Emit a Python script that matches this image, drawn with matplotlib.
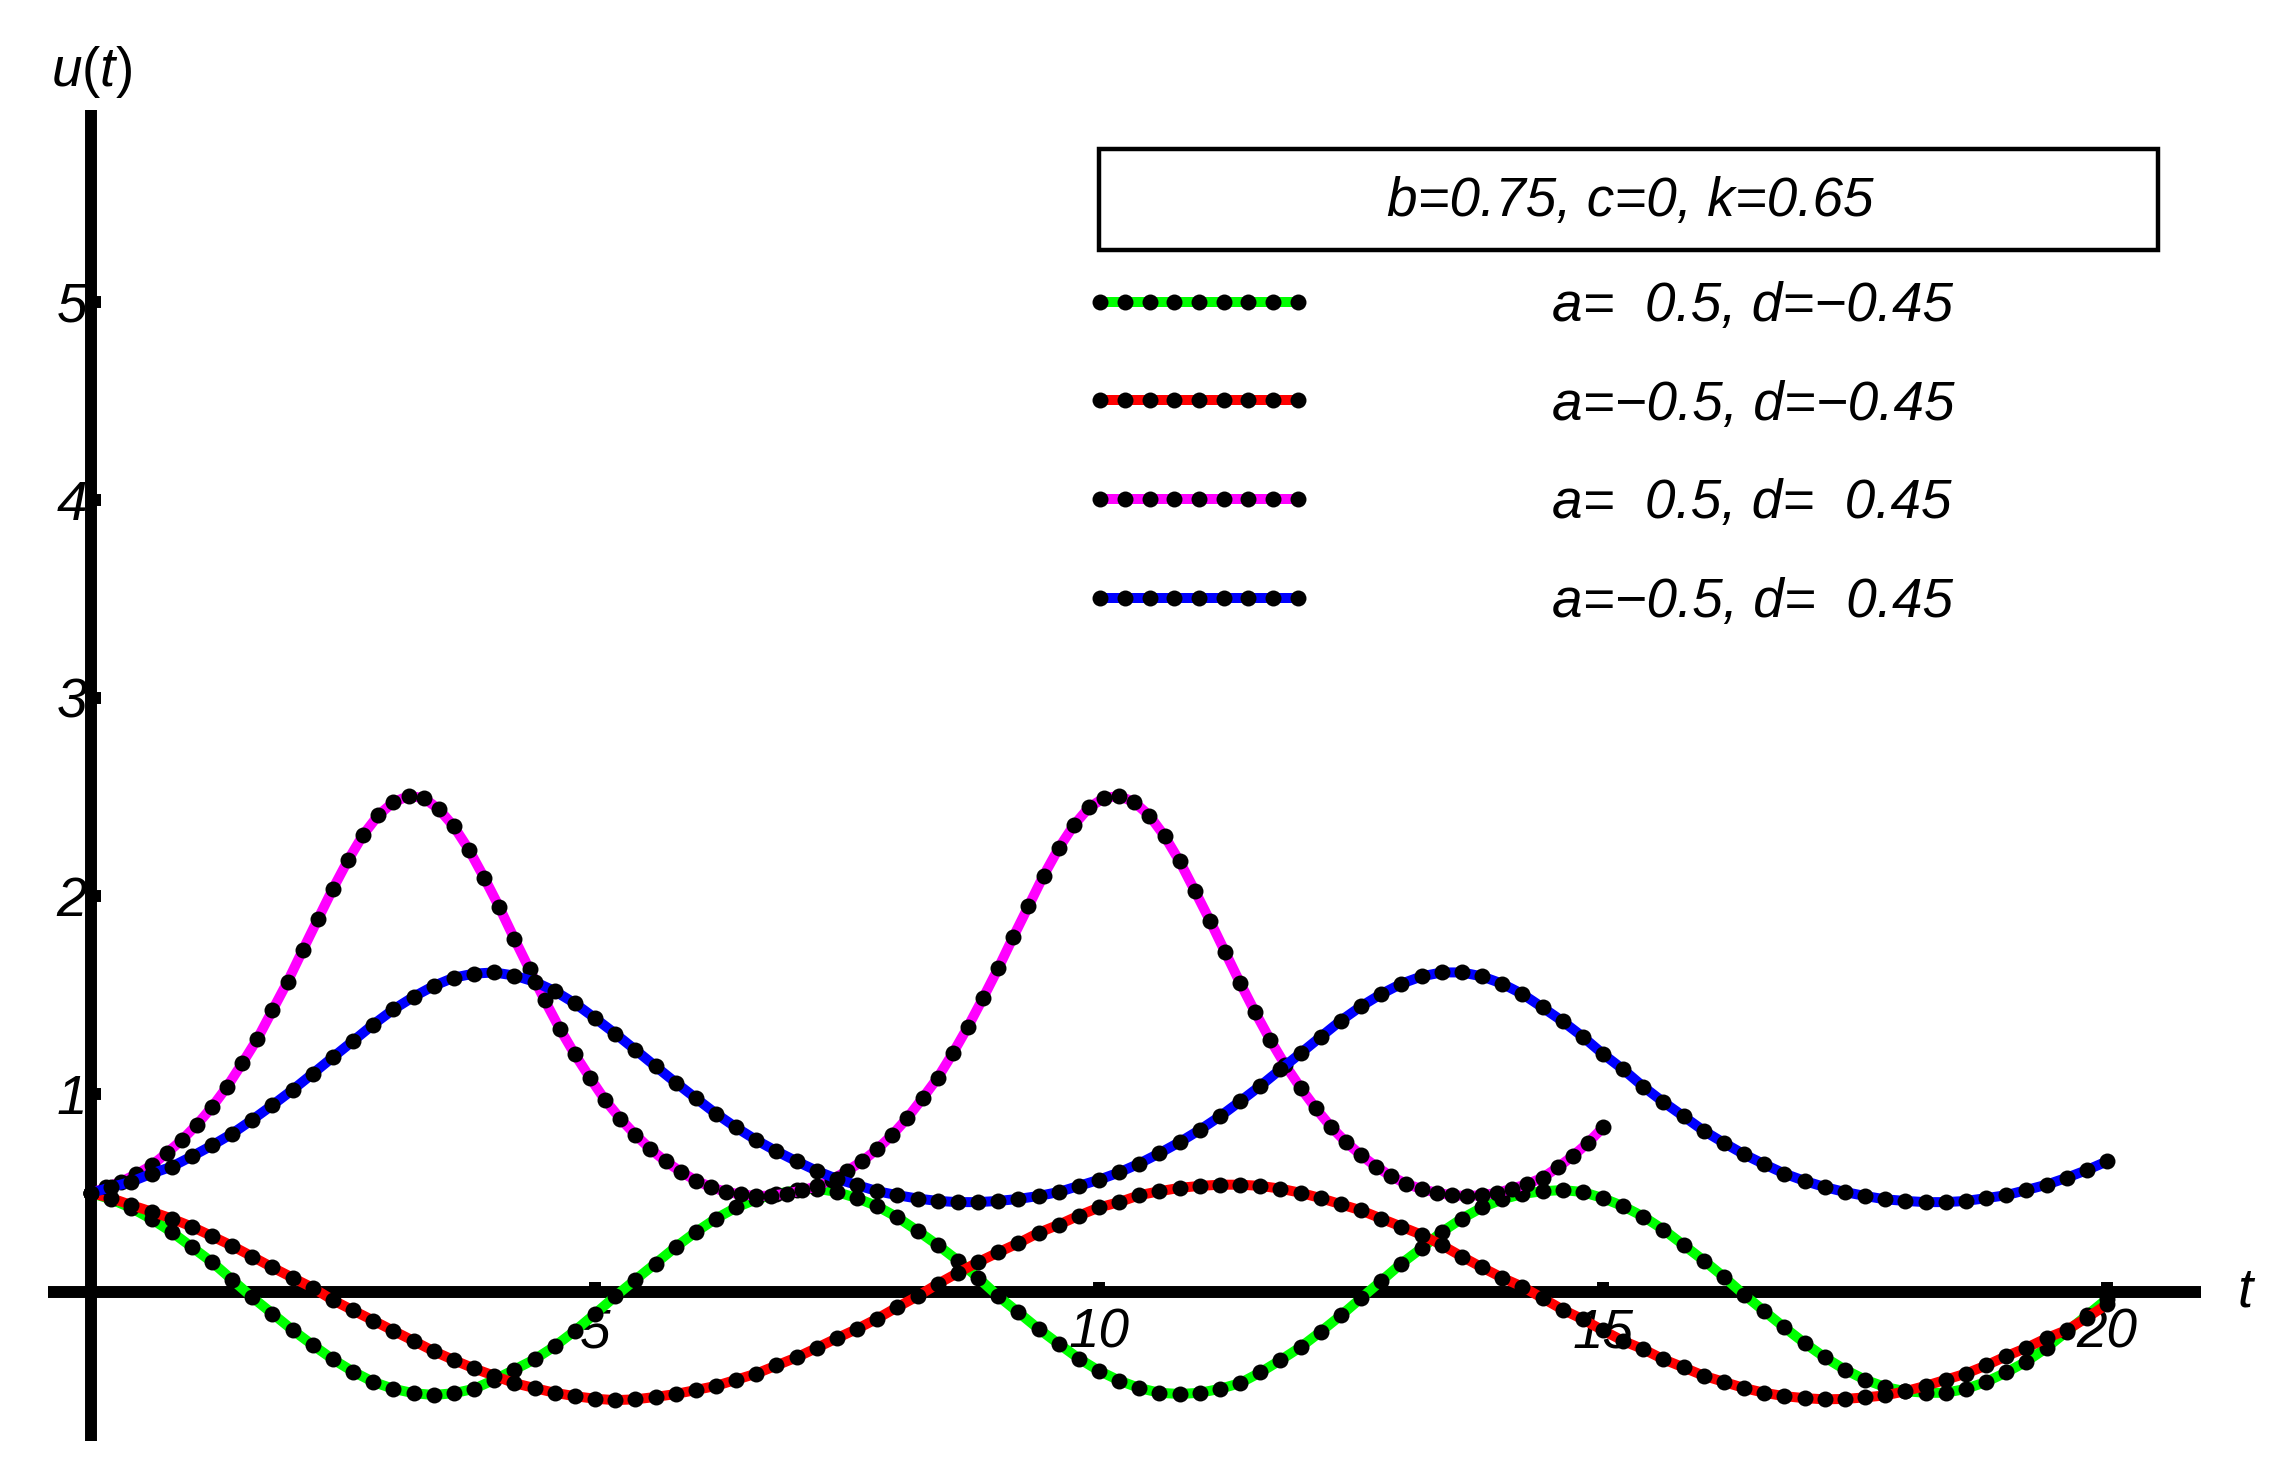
import numpy as np
import matplotlib
matplotlib.use("Agg")
from matplotlib import pyplot as plt
from matplotlib.patches import Rectangle
from matplotlib.legend_handler import HandlerLine2D

plt.rcParams['font.family'] = ['Liberation Sans', 'DejaVu Sans']
plt.rcParams['mathtext.fontset'] = 'custom'
plt.rcParams['mathtext.it'] = 'Liberation Sans:italic'
plt.rcParams['mathtext.rm'] = 'Liberation Sans'

# sample times: 101 points per curve (one dot per point)
t20 = np.linspace(0, 20, 101)
t15 = np.linspace(0, 15, 101)

# a= 0.5, d=-0.45
green = [0.500, 0.468, 0.424, 0.368, 0.303, 0.227, 0.151, 0.062, -0.027, -0.109,
         -0.192, -0.268, -0.340, -0.402, -0.454, -0.489, -0.511, -0.520, -0.511, -0.489,
         -0.443, -0.392, -0.340, -0.274, -0.196, -0.110, -0.022, 0.062, 0.144, 0.227,
         0.303, 0.371, 0.427, 0.468, 0.495, 0.515, 0.522, 0.505, 0.474, 0.433,
         0.377, 0.309, 0.237, 0.159, 0.072, -0.021, -0.103, -0.186, -0.262, -0.336,
         -0.398, -0.447, -0.485, -0.509, -0.515, -0.509, -0.489, -0.460, -0.406, -0.344,
         -0.278, -0.200, -0.118, -0.031, 0.056, 0.144, 0.221, 0.303, 0.371, 0.427,
         0.468, 0.495, 0.509, 0.515, 0.505, 0.474, 0.433, 0.381, 0.315, 0.237,
         0.159, 0.076, -0.014, -0.097, -0.179, -0.258, -0.330, -0.392, -0.443, -0.480,
         -0.501, -0.509, -0.509, -0.489, -0.454, -0.406, -0.351, -0.282, -0.200, -0.118,
         -0.035]

# a=-0.5, d=-0.45
red = [0.500, 0.474, 0.439, 0.406, 0.371, 0.330, 0.282, 0.233, 0.179, 0.124,
       0.072, 0.021, -0.041, -0.093, -0.144, -0.196, -0.247, -0.299, -0.344, -0.386,
       -0.423, -0.460, -0.485, -0.509, -0.526, -0.539, -0.546, -0.542, -0.530, -0.515,
       -0.495, -0.474, -0.443, -0.412, -0.371, -0.330, -0.282, -0.233, -0.186, -0.134,
       -0.076, -0.021, 0.041, 0.097, 0.151, 0.200, 0.247, 0.299, 0.340, 0.386,
       0.427, 0.454, 0.489, 0.509, 0.526, 0.536, 0.542, 0.542, 0.536, 0.522,
       0.501, 0.474, 0.443, 0.412, 0.371, 0.330, 0.289, 0.237, 0.179, 0.124,
       0.072, 0.027, -0.031, -0.089, -0.138, -0.194, -0.247, -0.289, -0.340, -0.381,
       -0.423, -0.454, -0.485, -0.509, -0.526, -0.536, -0.542, -0.540, -0.532, -0.522,
       -0.501, -0.474, -0.443, -0.412, -0.371, -0.324, -0.282, -0.233, -0.192, -0.130,
       -0.062]

# a= 0.5, d= 0.45  (t from 0 to 15)
magenta = [0.500, 0.528, 0.558, 0.595, 0.639, 0.701, 0.767, 0.845, 0.934, 1.037,
           1.155, 1.278, 1.423, 1.567, 1.726, 1.882, 2.037, 2.181, 2.309, 2.408,
           2.474, 2.505, 2.495, 2.439, 2.351, 2.233, 2.093, 1.944, 1.784, 1.629,
           1.474, 1.330, 1.200, 1.082, 0.969, 0.876, 0.794, 0.722, 0.660, 0.608,
           0.563, 0.530, 0.505, 0.493, 0.485, 0.487, 0.497, 0.513, 0.534, 0.567,
           0.612, 0.660, 0.722, 0.794, 0.880, 0.979, 1.082, 1.206, 1.340, 1.485,
           1.635, 1.794, 1.948, 2.103, 2.241, 2.357, 2.447, 2.495, 2.505, 2.474,
           2.406, 2.303, 2.175, 2.027, 1.876, 1.718, 1.561, 1.412, 1.272, 1.144,
           1.031, 0.928, 0.835, 0.757, 0.691, 0.633, 0.584, 0.546, 0.520, 0.501,
           0.489, 0.485, 0.489, 0.501, 0.522, 0.546, 0.577, 0.629, 0.687, 0.753,
           0.831]

# a=-0.5, d= 0.45
blue = [0.500, 0.530, 0.557, 0.598, 0.633, 0.685, 0.740, 0.800, 0.870, 0.944,
        1.021, 1.103, 1.186, 1.268, 1.351, 1.427, 1.491, 1.546, 1.588, 1.608,
        1.614, 1.598, 1.567, 1.520, 1.458, 1.383, 1.305, 1.223, 1.140, 1.058,
        0.979, 0.901, 0.831, 0.767, 0.711, 0.660, 0.612, 0.571, 0.540, 0.509,
        0.489, 0.472, 0.460, 0.454, 0.454, 0.460, 0.470, 0.485, 0.505, 0.536,
        0.567, 0.604, 0.649, 0.701, 0.757, 0.819, 0.887, 0.963, 1.041, 1.124,
        1.206, 1.289, 1.371, 1.443, 1.505, 1.557, 1.594, 1.614, 1.614, 1.594,
        1.557, 1.505, 1.437, 1.367, 1.289, 1.202, 1.124, 1.037, 0.959, 0.887,
        0.814, 0.753, 0.695, 0.645, 0.598, 0.561, 0.530, 0.505, 0.485, 0.468,
        0.460, 0.454, 0.454, 0.460, 0.474, 0.489, 0.515, 0.542, 0.577, 0.616,
        0.660]

labels = ['a=  0.5, d=\u22120.45', 'a=\u22120.5, d=\u22120.45',
          'a=  0.5, d=  0.45', 'a=\u22120.5, d=  0.45']
title = 'b=0.75, c=0, k=0.65'

FS = 39.5

fig = plt.figure(figsize=(22.94, 14.73), dpi=100)
ax = fig.add_axes([0, 0, 1, 1])
ax.set_xlim(-0.903, 21.855)
ax.set_ylim(-0.914, 6.525)

style = dict(lw=7.2, marker='o', ms=11.5, mfc='black', mec='black', mew=0,
             solid_capstyle='butt')
h1, = ax.plot(t20, green, color='#00ff00', zorder=3, **style)
h2, = ax.plot(t20, red, color='#ff0000', zorder=4, **style)
h3, = ax.plot(t15, magenta, color='#ff00ff', zorder=5, **style)
h4, = ax.plot(t20, blue, color='#0000ff', zorder=6, **style)

# axes through the origin
for s in ['top', 'right']:
    ax.spines[s].set_visible(False)
ax.spines['left'].set_position(('data', 0))
ax.spines['bottom'].set_position(('data', 0))
ax.spines['left'].set_bounds(-0.75, 5.97)
ax.spines['bottom'].set_bounds(-0.43, 20.93)
for s in ['left', 'bottom']:
    ax.spines[s].set_linewidth(8.6)
    ax.spines[s].set_capstyle('butt')

ax.set_xticks([5, 10, 15, 20])
ax.set_yticks([1, 2, 3, 4, 5])
ax.tick_params(axis='both', direction='in', length=7, width=8.6, labelsize=FS)
ax.tick_params(axis='x', pad=11.5)
ax.tick_params(axis='y', pad=3)
for lab in ax.get_xticklabels() + ax.get_yticklabels():
    lab.set_fontstyle('italic')

ax.text(0.0, 6.16, r'$u(t)$', fontsize=FS, ha='center', va='center')
ax.text(21.37, 0.0, 't', fontsize=FS, fontstyle='italic', ha='center', va='center')

# boxed parameter line
fig.add_artist(Rectangle((0.4791, 0.8303), 0.4616, 0.0686, transform=fig.transFigure,
                         fill=False, lw=3.2, ec='black'))
fig.text(0.7105, 0.8629, title, fontsize=FS, fontstyle='italic', ha='center', va='center')

hm = {h: HandlerLine2D(marker_pad=0.13, numpoints=9) for h in [h1, h2, h3, h4]}
ax.legend([h1, h2, h3, h4], labels, loc='center left', bbox_to_anchor=(0.4765, 0.6911),
          bbox_transform=fig.transFigure, frameon=False,
          prop={'size': FS, 'style': 'italic'}, handlelength=3.86, handletextpad=4.5,
          labelspacing=0.853, borderpad=0, borderaxespad=0, handler_map=hm)

fig.savefig('out.png', dpi=100)
